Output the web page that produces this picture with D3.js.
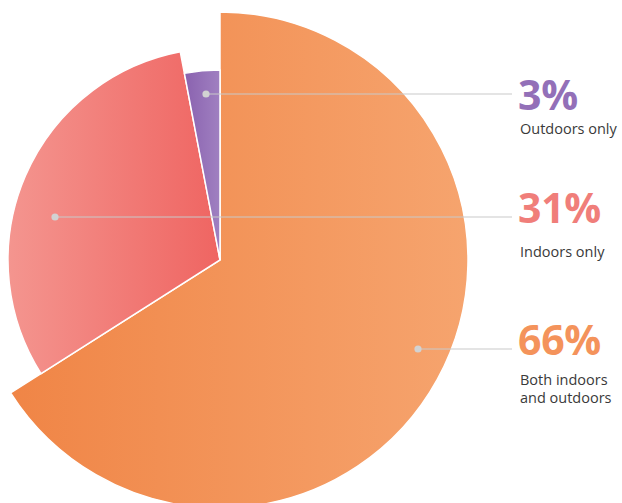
<!DOCTYPE html>
<html>
<head>
<meta charset="utf-8">
<script src="https://cdn.jsdelivr.net/npm/d3@7"></script>
<style>
  html, body { margin: 0; padding: 0; background: #fff; }
  svg { display: block; }
</style>
</head>
<body>
<svg id="chart" width="622" height="503"></svg>
<script>
// ---- data ----
const categories = ["Both indoors and outdoors", "Indoors only", "Outdoors only"];
const values = [66, 31, 3];
const pctLabels = ["66%", "31%", "3%"];
const descLines = [["Both indoors", "and outdoors"], ["Indoors only"], ["Outdoors only"]];
const radii = [248, 212, 190];
const gradLeft = ["#f08546", "#f4958f", "#8a62af"];
const gradRight = ["#f6a46e", "#ef6562", "#a080c1"];
const textColors = ["#f4935b", "#f07e7a", "#9370b8"];
const labelY = [349, 217, 94];
const dotX = [198, -165, -14];

const svg = d3.select("#chart");
const cx = 220, cy = 260;
const defs = svg.append("defs");

const pie = d3.pie().sort(null).value(d => d).startAngle(0).endAngle(2 * Math.PI);
const arcs = pie(values);

const g = svg.append("g").attr("transform", `translate(${cx},${cy})`);

arcs.forEach((a, i) => {
  const arcGen = d3.arc().innerRadius(0).outerRadius(radii[i]);
  const path = arcGen(a);
  const tmp = g.append("path").attr("d", path).attr("opacity", 0);
  const bb = tmp.node().getBBox();
  tmp.remove();
  const grad = defs.append("linearGradient")
    .attr("id", "grad" + i)
    .attr("gradientUnits", "userSpaceOnUse")
    .attr("x1", bb.x).attr("x2", bb.x + bb.width)
    .attr("y1", 0).attr("y2", 0);
  grad.append("stop").attr("offset", "0%").attr("stop-color", gradLeft[i]);
  grad.append("stop").attr("offset", "100%").attr("stop-color", gradRight[i]);
  g.append("path")
    .attr("d", path)
    .attr("fill", `url(#grad${i})`)
    .attr("stroke", "#fff")
    .attr("stroke-width", 1.5)
    .attr("stroke-linejoin", "miter");
});

// leader lines and dots
const lineEndX = 512;
arcs.forEach((a, i) => {
  const y = labelY[i] - cy;
  const x = dotX[i];
  g.append("line")
    .attr("x1", x).attr("y1", y)
    .attr("x2", lineEndX - cx).attr("y2", y)
    .attr("stroke", "#c9c9c9").attr("stroke-width", 1);
  g.append("circle")
    .attr("cx", x).attr("cy", y).attr("r", 3.6)
    .attr("fill", "#d2d2d2");
});

// labels
const labelX = 518;
const pctBaseline = [355, 223, 110];
const descOffset = [30, 34, 24];
arcs.forEach((a, i) => {
  svg.append("text")
    .attr("x", labelX).attr("y", pctBaseline[i])
    .attr("font-family", "'Open Sans', sans-serif")
    .attr("font-weight", 700)
    .attr("font-size", 41)
    .attr("letter-spacing", -0.3)
    .attr("fill", textColors[i])
    .text(pctLabels[i]);
  descLines[i].forEach((ln, j) => {
    svg.append("text")
      .attr("x", labelX + 2).attr("y", pctBaseline[i] + descOffset[i] + j * 18)
      .attr("font-family", "'Open Sans', sans-serif")
      .attr("font-size", 14.5)
      .attr("fill", "#3a3a3a")
      .text(ln);
  });
});
</script>
</body>
</html>
